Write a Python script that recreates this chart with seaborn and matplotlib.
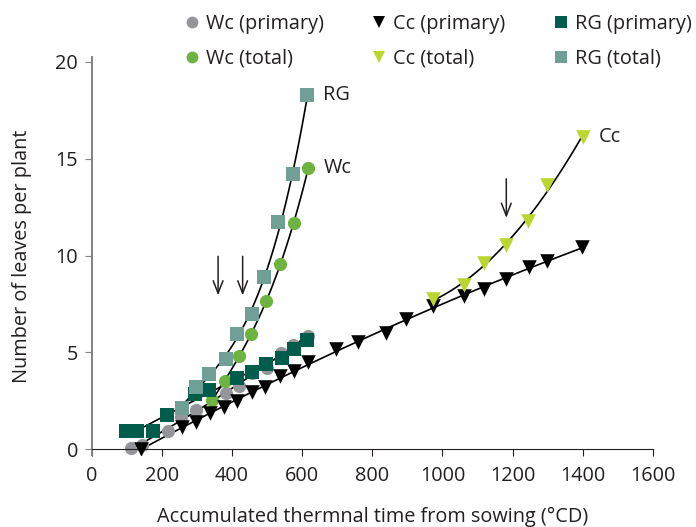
import numpy as np
import pandas as pd
import matplotlib.pyplot as plt
import seaborn as sns

# values (thermal time in degC d, leaves per plant)
wc_p_x = [111, 142, 218, 253, 296, 382, 420, 458, 500, 539, 574, 616]
wc_p_y = [0.05, 0.22, 0.96, 1.65, 2.03, 2.92, 3.29, 3.92, 4.19, 4.99, 5.38, 5.85]
wc_t_x = [342, 380, 420, 454, 496, 537, 577, 617]
wc_t_y = [2.54, 3.52, 4.81, 5.95, 7.63, 9.55, 11.70, 14.53]

cc_p_x = [139, 258, 296, 336, 377, 415, 457, 493, 536, 576, 617, 697, 758,
          839, 897, 974, 1061, 1118, 1182, 1246, 1298, 1399]
cc_p_y = [0.0, 1.17, 1.42, 1.86, 2.16, 2.49, 2.97, 3.24, 3.78, 4.04, 4.52, 5.15, 5.55,
          6.02, 6.74, 7.39, 7.91, 8.29, 8.77, 9.42, 9.70, 10.45]
cc_t_x = [974, 1061, 1117, 1182, 1243, 1299, 1401]
cc_t_y = [7.76, 8.48, 9.60, 10.52, 11.78, 13.64, 16.13]

rg_p_x = [96, 130, 175, 215, 294, 334, 415, 458, 497, 541, 577, 615]
rg_p_y = [0.92, 0.92, 0.92, 1.77, 2.85, 3.06, 3.66, 3.99, 4.38, 4.70, 5.15, 5.62]
rg_t_x = [258, 296, 334, 382, 415, 458, 492, 532, 575, 615]
rg_t_y = [2.12, 3.23, 3.88, 4.64, 5.93, 6.97, 8.87, 11.71, 14.21, 18.28]

# onset of branching (arrows)
arrow_x = [360, 430, 1182]
arrow_top = [10.1, 10.1, 14.1]
arrow_bot = [7.8, 7.8, 11.8]

sns.set_style('ticks')
plt.rcParams['font.family'] = ['Open Sans', 'DejaVu Sans']
FS = 14.3
TXT = '#231f20'

fig = plt.figure(figsize=(6.96, 5.27), dpi=100)
ax = fig.add_axes([0.132, 0.1364, 0.806, 0.7557])

# fitted trend lines
fits = [(wc_p_x, wc_p_y, 2), (rg_p_x, rg_p_y, 2), (cc_p_x, cc_p_y, 2),
        (wc_t_x, wc_t_y, 3), (rg_t_x, rg_t_y, 3), (cc_t_x, cc_t_y, 2)]
for fx, fy, order in fits:
    sns.regplot(x=fx, y=fy, order=order, scatter=False, ci=None, truncate=True,
                line_kws=dict(color='black', lw=1.2, zorder=1), ax=ax)

series = [
    ('Wc (primary)', wc_p_x, wc_p_y, 'o', '#939598', 90),
    ('Wc (total)', wc_t_x, wc_t_y, 'o', '#6db33f', 90),
    ('Cc (primary)', cc_p_x, cc_p_y, 'v', '#000000', 110),
    ('Cc (total)', cc_t_x, cc_t_y, 'v', '#bcd630', 110),
    ('RG (primary)', rg_p_x, rg_p_y, 's', '#005c4b', 88),
    ('RG (total)', rg_t_x, rg_t_y, 's', '#6f9f95', 88),
]
handles = []
for i, (lab, sx, sy, mk, col, sz) in enumerate(series):
    df = pd.DataFrame({'x': sx, 'y': sy})
    sns.scatterplot(data=df, x='x', y='y', marker=mk, color=col, s=sz,
                    linewidth=0, ax=ax, zorder=2 + i)
    handles.append(plt.Line2D([], [], ls='', marker=mk, color=col, markersize=8.5,
                              markeredgewidth=0, label=lab))

for txt, sx, sy in [('RG', rg_t_x, rg_t_y), ('Wc', wc_t_x, wc_t_y), ('Cc', cc_t_x, cc_t_y)]:
    ax.annotate(txt, (sx[-1], sy[-1]), xytext=(11, 0), textcoords='offset points',
                va='center', ha='left', fontsize=FS, color=TXT)

for axx, top, bot in zip(arrow_x, arrow_top, arrow_bot):
    ax.annotate('', xy=(axx, bot), xytext=(axx, top),
                arrowprops=dict(arrowstyle='->,head_length=0.9,head_width=0.35',
                                color=TXT, lw=1.1))

ax.set_xlim(0, 1600)
ax.set_ylim(-0.3, 20.25)
ax.set_xticks(range(0, 1601, 200))
ax.set_yticks(range(0, 21, 5))
ax.spines['bottom'].set_position(('data', 0))
ax.spines['bottom'].set_color(TXT)
ax.spines['left'].set_color('#808285')
ax.spines['left'].set_linewidth(1.4)
sns.despine(ax=ax)
ax.tick_params(axis='both', labelsize=FS, colors=TXT, length=5)
ax.tick_params(axis='x', pad=7)
ax.tick_params(axis='y', color='#808285', pad=5)
ax.set_xlabel('Accumulated thermnal time from sowing (\u00b0CD)', fontsize=FS,
              color=TXT, labelpad=15)
ax.set_ylabel('Number of leaves per plant', fontsize=FS, color=TXT, labelpad=17)

fig.legend(handles=handles, ncol=3, loc='upper left', bbox_to_anchor=(0.234, 1.008),
           frameon=False, fontsize=FS, handletextpad=0.15, columnspacing=2.25,
           labelspacing=0.75, handlelength=1.1, labelcolor=TXT)

fig.savefig('out.png', dpi=100)
